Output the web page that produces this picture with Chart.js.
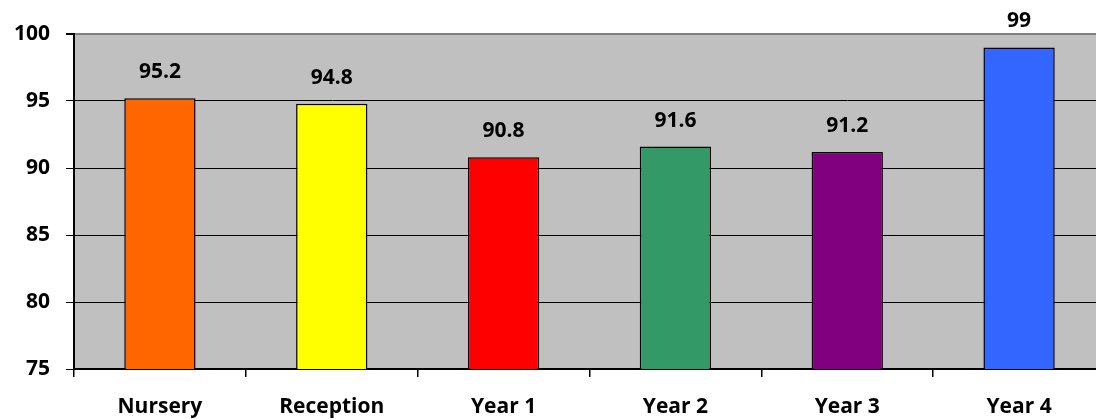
<!DOCTYPE html>
<html>
<head>
<meta charset="utf-8">
<script src="https://cdn.jsdelivr.net/npm/chart.js@4"></script>
<style>
  html, body { margin: 0; padding: 0; background: #fff; overflow: hidden; }
  #wrap { width: 1110px; height: 419px; }
</style>
</head>
<body>
<div id="wrap"><canvas id="chart" width="1110" height="419"></canvas></div>
<script>
const categories = ['Nursery', 'Reception', 'Year 1', 'Year 2', 'Year 3', 'Year 4']
const attendance = [95.2, 94.8, 90.8, 91.6, 91.2, 99]
const barColors = ['#FF6600', '#FFFF00', '#FF0000', '#339966', '#800080', '#3366FF']
const yTicks = [75, 80, 85, 90, 95, 100]

const FONT = '"Open Sans", Lato, sans-serif'
const FONT_SIZE = 21

// grey plot area, like the old Excel default
const plotBackground = {
  id: 'plotBackground',
  beforeDraw(chart) {
    const { ctx, chartArea: a } = chart
    ctx.save()
    ctx.fillStyle = '#C0C0C0'
    ctx.fillRect(a.left, a.top, a.right - a.left, a.bottom - a.top)
    ctx.restore()
  },
}

// value labels above each bar
const valueLabels = {
  id: 'valueLabels',
  afterDatasetsDraw(chart) {
    const { ctx } = chart
    const meta = chart.getDatasetMeta(0)
    ctx.save()
    ctx.font = `bold ${FONT_SIZE}px ${FONT}`
    ctx.fillStyle = '#000'
    ctx.textAlign = 'center'
    ctx.textBaseline = 'alphabetic'
    meta.data.forEach((bar, i) => {
      ctx.fillText(String(attendance[i]), bar.x, bar.y - 20)
    })
    ctx.restore()
  },
}

new Chart(document.getElementById('chart'), {
  type: 'bar',
  data: {
    labels: categories,
    datasets: [
      {
        data: attendance,
        backgroundColor: barColors,
        borderColor: '#000',
        borderWidth: 1.5,
        borderSkipped: false,
        categoryPercentage: 1,
        barPercentage: 0.415,
      },
    ],
  },
  options: {
    responsive: false,
    animation: false,
    layout: { padding: { top: 34, right: 5, left: 0, bottom: 0 } },
    plugins: {
      legend: { display: false },
      tooltip: { enabled: false },
    },
    scales: {
      x: {
        afterFit: (s) => { s.height = 50 },
        grid: {
          offset: true,
          drawOnChartArea: false,
          drawTicks: true,
          tickLength: 8,
          color: '#000',
          lineWidth: 1.5,
        },
        border: { color: '#000', width: 2 },
        ticks: {
          color: '#000',
          padding: 17,
          font: { family: FONT, size: FONT_SIZE, weight: 'bold' },
        },
      },
      y: {
        min: 75,
        max: 100,
        afterFit: (s) => { s.width = 74 },
        afterBuildTicks: (s) => { s.ticks = yTicks.map((v) => ({ value: v })) },
        grid: {
          color: (c) => (c.tick && c.tick.value === 100 ? '#808080' : '#000'),
          lineWidth: (c) => (c.tick && c.tick.value === 100 ? 2 : 1),
          tickColor: '#000',
          tickLength: 8,
        },
        border: { color: '#000', width: 2 },
        ticks: {
          color: '#000',
          padding: 16,
          font: { family: FONT, size: FONT_SIZE, weight: 'bold' },
        },
      },
    },
  },
  plugins: [plotBackground, valueLabels],
})
</script>
</body>
</html>
